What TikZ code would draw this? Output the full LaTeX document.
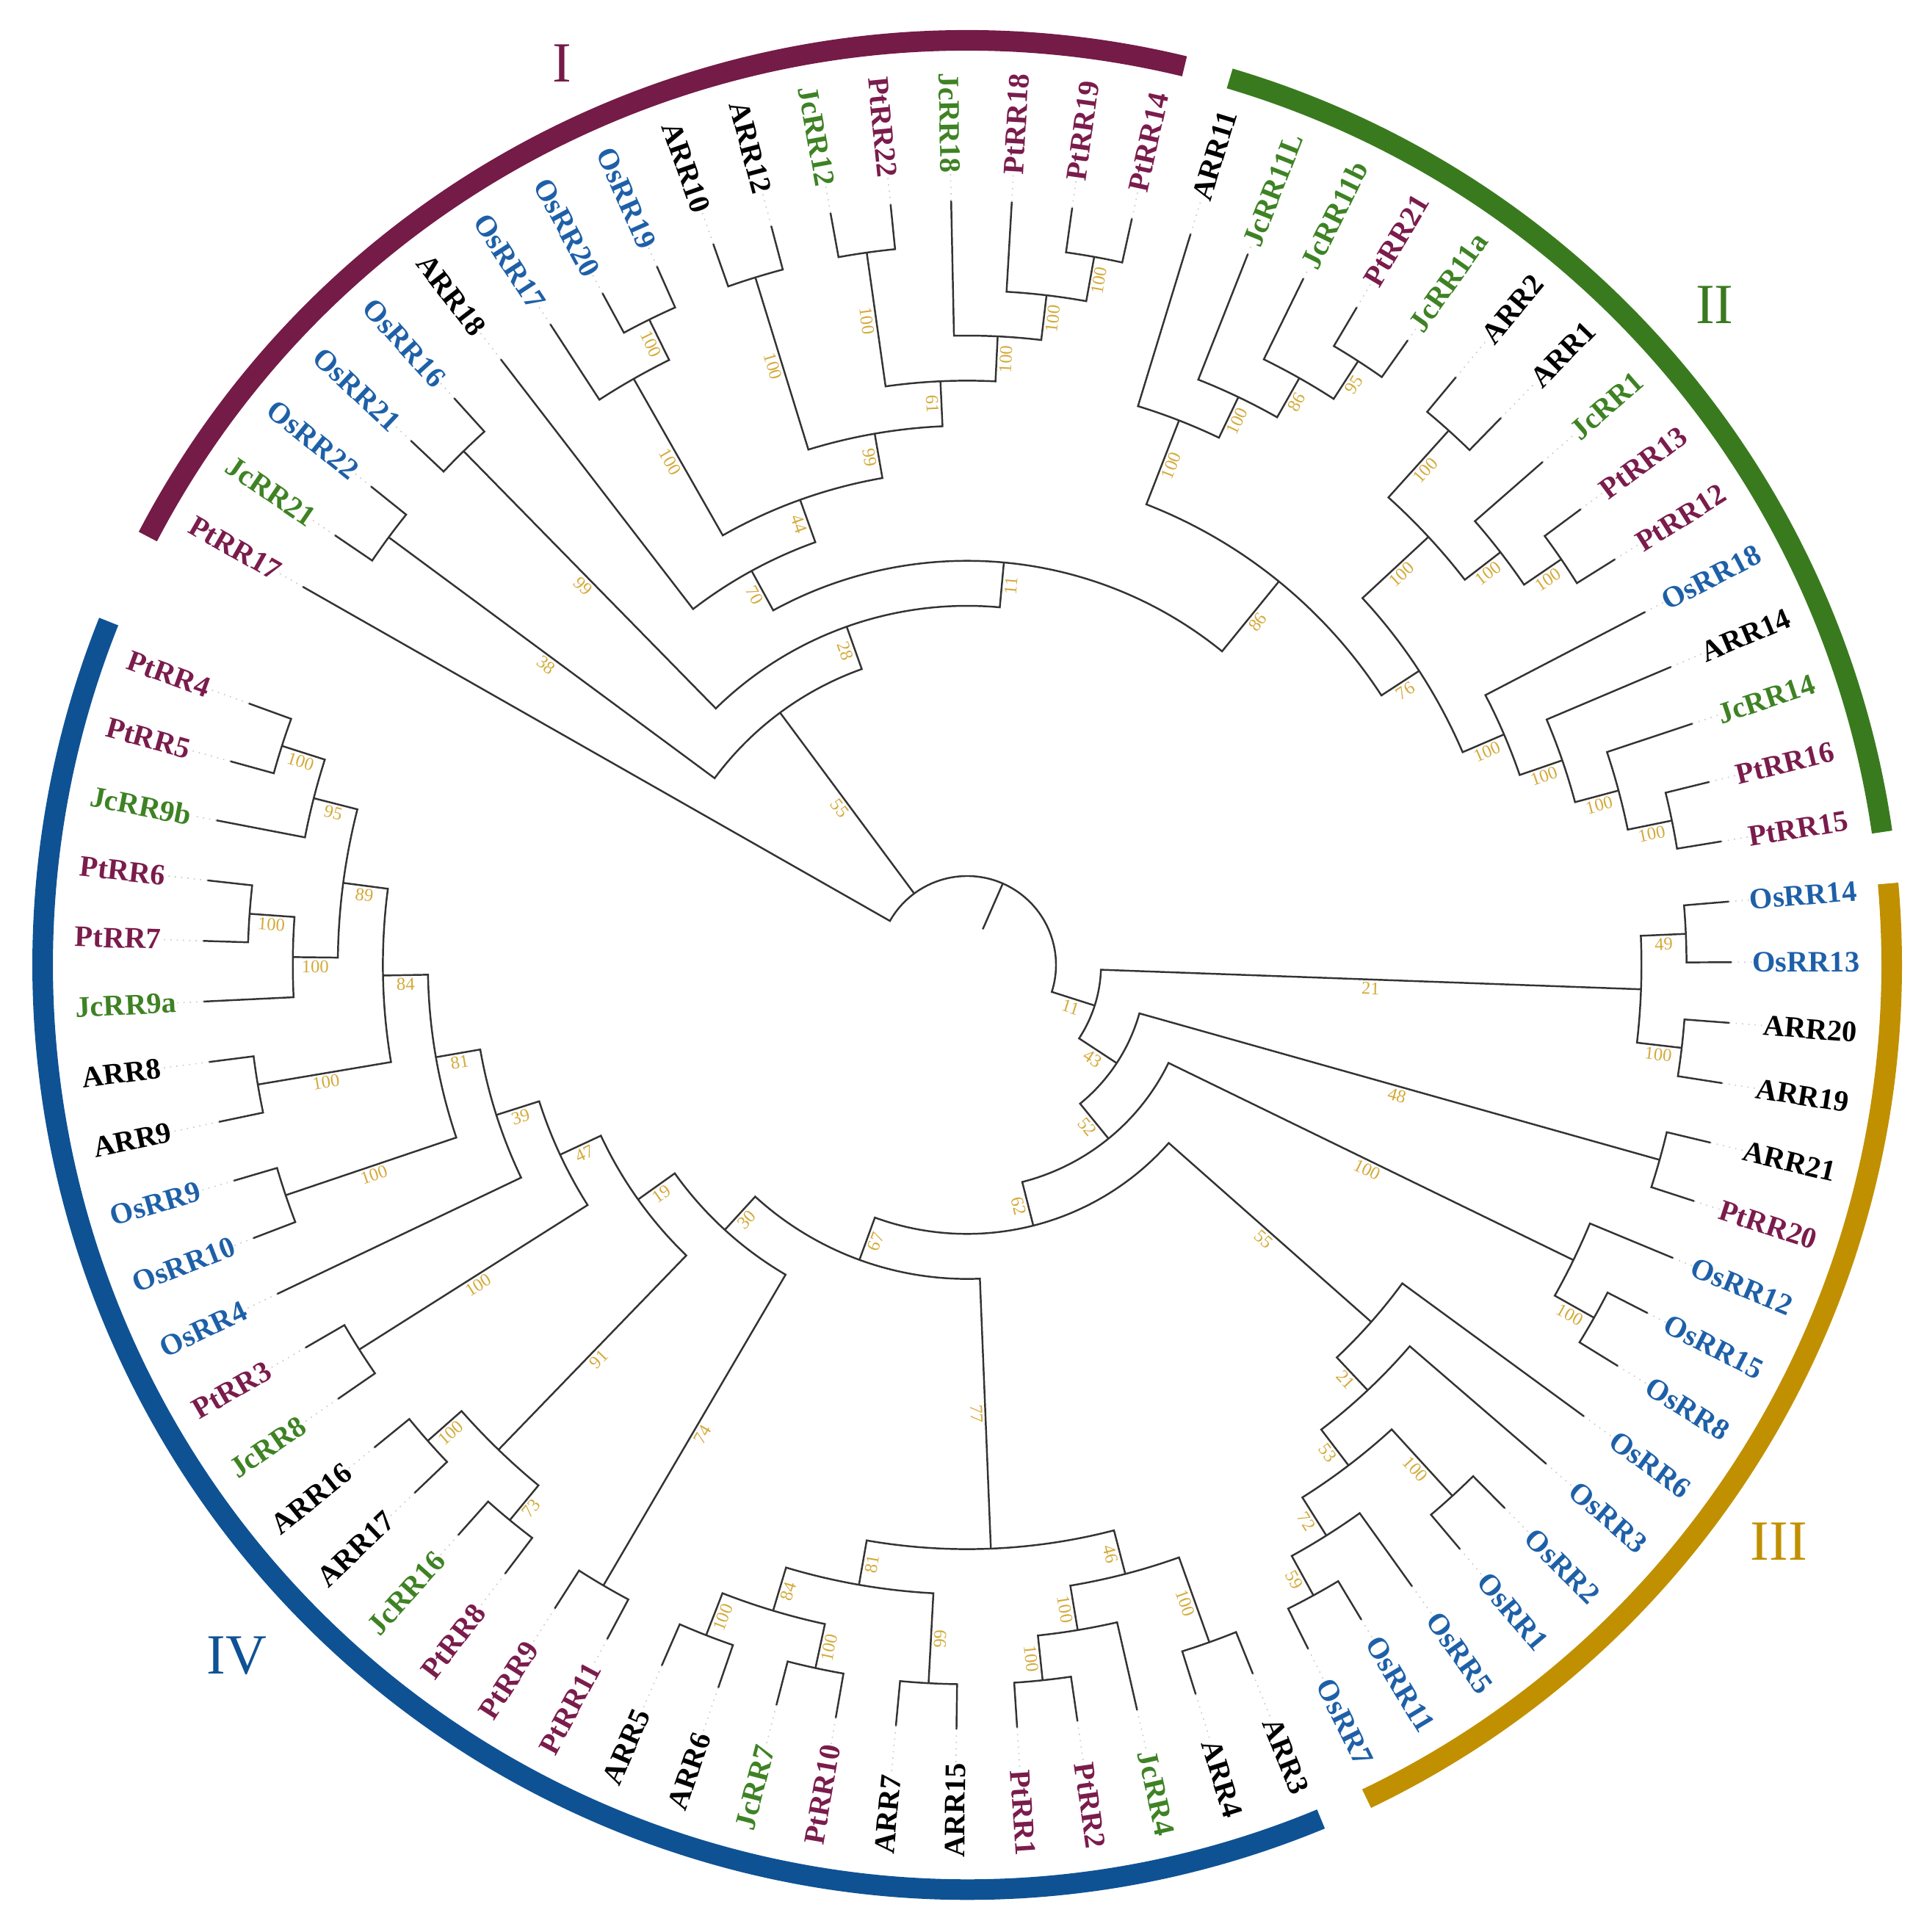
\documentclass[tikz,border=0pt]{standalone}
\usepackage{fontspec}
\setmainfont{Liberation Serif}

\definecolor{cI}{RGB}{116,27,71}
\definecolor{cII}{RGB}{58,122,31}
\definecolor{cIII}{RGB}{193,144,0}
\definecolor{cIV}{RGB}{14,82,148}
\definecolor{pt}{RGB}{122,28,76}
\definecolor{jc}{RGB}{62,130,36}
\definecolor{os}{RGB}{30,96,168}
\definecolor{ar}{RGB}{0,0,0}
\definecolor{bsgold}{RGB}{212,170,58}

\tikzset{
  branch/.style={draw=black!80, line width=0.7pt},
  leader/.style={draw=black!22, dotted, line width=0.45pt},
  leaf/.style={font=\bfseries\fontsize{11.5}{12}\selectfont, inner sep=0pt},
  boot/.style={text=bsgold, font=\fontsize{7}{7}\selectfont, anchor=north, inner sep=1pt},
  ring/.style={line width=0.28cm},
  cladelbl/.style={font=\fontsize{22}{22}\selectfont}
}

\newcommand\tipR{10.41}
\newcommand\lblR{12.16}
\newcommand\ringR{12.59}
% radius of a node of height #2
\newcommand\levrad[2]{\pgfmathsetmacro#1{1.21+0.6133*(15-#2)}}

% rotated bootstrap text: angle, radius, text
\newcommand\bslabel[3]{%
  \pgfmathtruncatemacro\isright{cos(#1)>=0}%
  \ifnum\isright=1 \pgfmathsetmacro\lblrot{#1}\else\pgfmathsetmacro\lblrot{#1+180}\fi
  \node[boot, rotate=\lblrot] at (#1:#2) {#3};%
}
% bootstrap value on the stem of #1, parent radius #2
\newcommand\stemboot[2]{%
  \edef\bsval{\csname b@#1\endcsname}%
  \ifx\bsval\empty\else
    \edef\bsang{\csname a@#1\endcsname}%
    \levrad\bsrad{\csname h@#1\endcsname}%
    \pgfmathsetmacro\bsmid{(#2+\bsrad)/2}%
    \bslabel{\bsang}{\bsmid}{\bsval}%
  \fi
}
% leaf: slot, name, colour
\newcommand\leafnode[3]{%
  \pgfmathsetmacro\ang{150.35-4.55*#1}%
  \expandafter\xdef\csname a@#2\endcsname{\ang}%
  \expandafter\xdef\csname h@#2\endcsname{0}%
  \expandafter\xdef\csname b@#2\endcsname{}%
  \coordinate (#2) at (\ang:\tipR);
  \pgfmathtruncatemacro\isright{cos(\ang)>=0}%
  \ifnum\isright=1
    \node[leaf, text=#3, rotate=\ang, anchor=east] (L-#2) at (\ang:\lblR) {#2};
    \draw[leader] (#2) -- (L-#2.west);
  \else
    \pgfmathsetmacro\lblrot{\ang+180}%
    \node[leaf, text=#3, rotate=\lblrot, anchor=west] (L-#2) at (\ang:\lblR) {#2};
    \draw[leader] (#2) -- (L-#2.east);
  \fi
}
% clade: name, child, child, bootstrap
\newcommand\cladenode[4]{%
  \edef\angA{\csname a@#2\endcsname}%
  \edef\angB{\csname a@#3\endcsname}%
  \edef\hA{\csname h@#2\endcsname}%
  \edef\hB{\csname h@#3\endcsname}%
  \pgfmathtruncatemacro\hgt{max(\hA,\hB)+1}%
  \pgfmathsetmacro\ang{(\angA+\angB)/2}%
  \levrad\rad\hgt \levrad\radA\hA \levrad\radB\hB
  \draw[branch] (\angA:\radA) -- (\angA:\rad)
    arc[start angle=\angA, end angle=\angB, radius=\rad] -- (\angB:\radB);
  \stemboot{#2}{\rad}\stemboot{#3}{\rad}%
  \expandafter\xdef\csname a@#1\endcsname{\ang}%
  \expandafter\xdef\csname h@#1\endcsname{\hgt}%
  \expandafter\xdef\csname b@#1\endcsname{#4}%
  \coordinate (#1) at (\ang:\rad);
}

\begin{document}
\begin{tikzpicture}
  \useasboundingbox (-13.17,-13.17) rectangle (13.02,13.14);
  % leaves
  \foreach \k/\nm/\cl in {0/PtRR17/pt,1/JcRR21/jc,2/OsRR22/os,3/OsRR21/os,4/OsRR16/os,5/ARR18/ar,6/OsRR17/os,7/OsRR20/os,8/OsRR19/os,9/ARR10/ar,10/ARR12/ar,11/JcRR12/jc,12/PtRR22/pt,13/JcRR18/jc,14/PtRR18/pt,15/PtRR19/pt,16/PtRR14/pt,
    17/ARR11/ar,18/JcRR11L/jc,19/JcRR11b/jc,20/PtRR21/pt,21/JcRR11a/jc,22/ARR2/ar,23/ARR1/ar,24/JcRR1/jc,25/PtRR13/pt,26/PtRR12/pt,27/OsRR18/os,28/ARR14/ar,29/JcRR14/jc,30/PtRR16/pt,31/PtRR15/pt,
    32/OsRR14/os,33/OsRR13/os,34/ARR20/ar,35/ARR19/ar,36/ARR21/ar,37/PtRR20/pt,38/OsRR12/os,39/OsRR15/os,40/OsRR8/os,41/OsRR6/os,42/OsRR3/os,43/OsRR2/os,44/OsRR1/os,45/OsRR5/os,46/OsRR11/os,47/OsRR7/os,
    48/ARR3/ar,49/ARR4/ar,50/JcRR4/jc,51/PtRR2/pt,52/PtRR1/pt,53/ARR15/ar,54/ARR7/ar,55/PtRR10/pt,56/JcRR7/jc,57/ARR6/ar,58/ARR5/ar,59/PtRR11/pt,60/PtRR9/pt,61/PtRR8/pt,62/JcRR16/jc,63/ARR17/ar,64/ARR16/ar,65/JcRR8/jc,66/PtRR3/pt,67/OsRR4/os,68/OsRR10/os,69/OsRR9/os,70/ARR9/ar,71/ARR8/ar,72/JcRR9a/jc,73/PtRR7/pt,74/PtRR6/pt,75/JcRR9b/jc,76/PtRR5/pt,77/PtRR4/pt}
    {\leafnode{\k}{\nm}{\cl}}
  % clades, children first
  \foreach \cn/\cp/\cq/\bv in {a1/JcRR21/OsRR22/38,a2/OsRR21/OsRR16/99,d1/OsRR20/OsRR19/100,b1/OsRR17/d1/100,c1/ARR10/ARR12/100,c2/JcRR12/PtRR22/100,c3/PtRR19/PtRR14/100,N100b/PtRR18/c3/100,N100a/JcRR18/N100b/100,N61/c2/N100a/61,N99/c1/N61/99,N44/b1/N99/44,Z70/ARR18/N44/70,
    e4/PtRR21/JcRR11a/95,e3/JcRR11b/e4/86,e2/JcRR11L/e3/100,e1/ARR11/e2/100,h2/ARR2/ARR1/100,h4/PtRR13/PtRR12/100,h3/JcRR1/h4/100,h1/h2/h3/100,i4/PtRR16/PtRR15/100,i3/JcRR14/i4/100,i2/ARR14/i3/100,i1/OsRR18/i2/100,g1/h1/i1/76,f1/e1/g1/86,
    Y/Z70/f1/11,X/a2/Y/28,N55/a1/X/55,
    j2/OsRR14/OsRR13/49,j3/ARR20/ARR19/100,j1/j2/j3/21,k1/ARR21/PtRR20/48,l2/OsRR15/OsRR8/100,l1/OsRR12/l2/100,m6/OsRR11/OsRR7/59,m5/OsRR5/m6/72,m4/OsRR2/OsRR1/100,m3/m4/m5/53,m2/OsRR3/m3/21,m1/OsRR6/m2/55,
    n10/ARR3/ARR4/100,n9/PtRR2/PtRR1/100,n8/JcRR4/n9/100,n3/n10/n8/46,n4/ARR15/ARR7/99,n7/PtRR10/JcRR7/100,n6/ARR6/ARR5/100,n5/n7/n6/84,n2/n4/n5/81,n1/n3/n2/77,
    o1/PtRR11/PtRR9/74,p3/PtRR8/JcRR16/73,p2/ARR17/ARR16/100,p1/p3/p2/91,p4/JcRR8/PtRR3/100,q1/OsRR10/OsRR9/100,q2/ARR9/ARR8/100,r2/PtRR7/PtRR6/100,r1/JcRR9a/r2/100,s2/PtRR5/PtRR4/100,s1/JcRR9b/s2/95,
    N89/r1/s1/89,N84/q2/N89/84,N81/q1/N84/81,N39/OsRR4/N81/39,N47/p4/N39/47,N19/p1/N47/19,N30/o1/N19/30,N67/n1/N30/67,N62/m1/N67/62,N52/l1/N62/52,N43/k1/N52/43,N11/j1/N43/11}
    {\cladenode{\cn}{\cp}{\cq}{\bv}}
  % root
  \edef\angA{\csname a@PtRR17\endcsname}
  \edef\angB{\csname a@N11\endcsname}
  \edef\angC{\csname a@N55\endcsname}
  \pgfmathsetmacro\ang{(\angA+\angB)/2}
  \draw[branch] (PtRR17) -- (\angA:1.21) arc[start angle=\angA, end angle=\angB, radius=1.21] -- (N11);
  \draw[branch] (\angC:1.21) -- (N55);
  \draw[branch] (\ang:1.21) -- (\ang:0.53);
  \stemboot{N55}{1.21}\stemboot{N11}{1.21}
  % clade rings
  \draw[ring, cI] (152.4:\ringR) arc[start angle=152.4, end angle=76.4, radius=\ringR];
  \draw[ring, cII] (73.5:\ringR) arc[start angle=73.5, end angle=8.26, radius=\ringR];
  \draw[ring, cIII] (5.05:\ringR) arc[start angle=5.05, end angle=-64.4, radius=\ringR];
  \draw[ring, cIV] (-67.5:\ringR) arc[start angle=-67.5, end angle=-201.8, radius=\ringR];
  % clade names
  \node[cladelbl, text=cI] (lab-I) at (114.2:13.46) {I};
  \node[cladelbl, text=cII] (lab-II) at (41.45:13.58) {II};
  \node[cladelbl, text=cIII] (lab-III) at (-35.4:13.56) {III};
  \node[cladelbl, text=cIV] (lab-IV) at (-136.6:13.69) {IV};
\end{tikzpicture}
\end{document}
